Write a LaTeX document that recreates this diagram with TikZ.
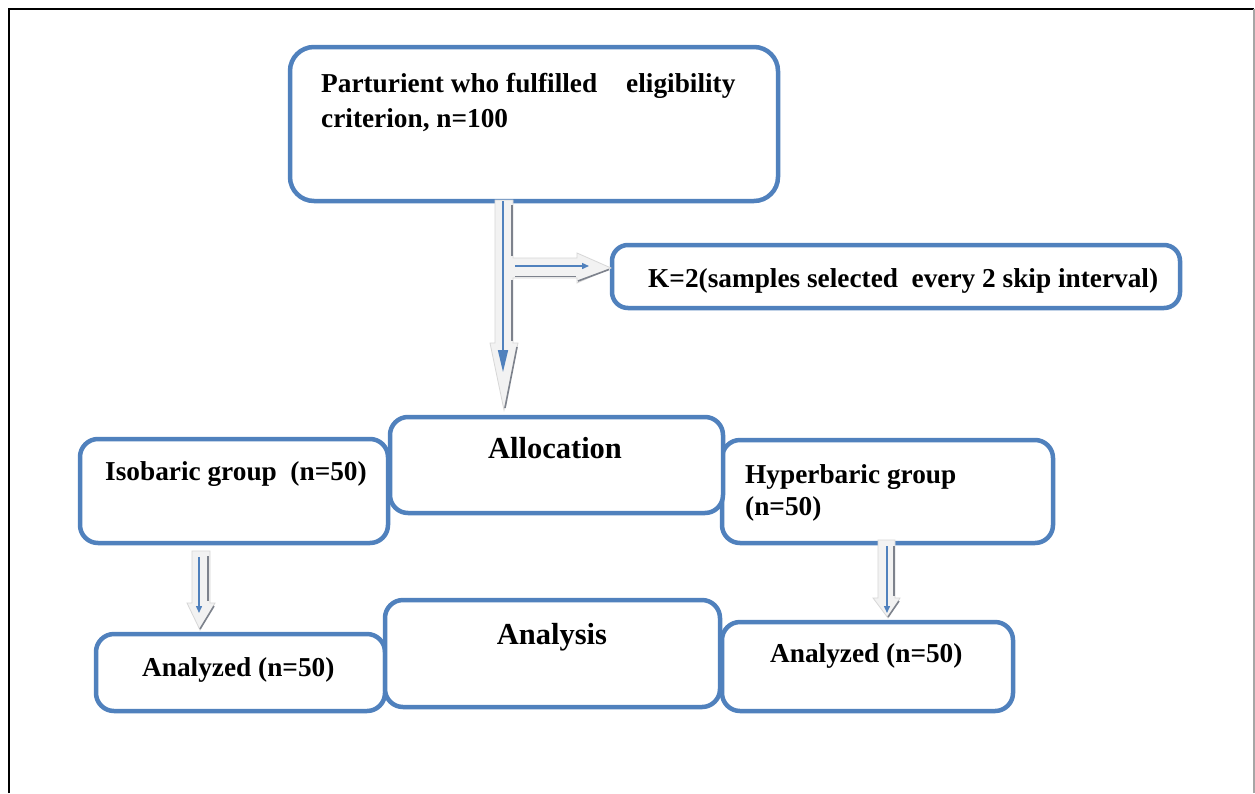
\documentclass[tikz,border=0pt]{standalone}
\usepackage{fontspec}
\setmainfont{Liberation Serif}
\usetikzlibrary{arrows.meta}
\definecolor{boxblue}{RGB}{80,129,189}
\definecolor{arrfill}{RGB}{242,242,242}
\definecolor{arredge}{RGB}{215,215,215}
\definecolor{arrshadow}{RGB}{125,130,140}
\tikzset{
  flowbox/.style={draw=boxblue, line width=4.5pt, rounded corners=18pt, fill=white,
    inner sep=0pt, outer sep=0pt},
  txt/.style={font=\bfseries\fontsize{27.3}{35}\selectfont, inner sep=0pt, anchor=base west, align=left},
  bigtxt/.style={font=\bfseries\fontsize{30.5}{36}\selectfont, inner sep=0pt, anchor=base},
  blockarrow/.style={fill=arrfill, draw=arredge, line width=0.8pt, line join=miter},
  arrshade/.style={draw=arrshadow, line width=1.6pt},
  bluebig/.style={draw=boxblue, line width=1.6pt, -{Triangle[length=22pt,width=10pt]}},
  bluesmall/.style={draw=boxblue, line width=1.4pt, -{Triangle[length=7pt,width=6pt]}},
}
\begin{document}
\begin{tikzpicture}[x=1pt,y=-1pt]
\useasboundingbox (0,0) rectangle (1255,793);
\fill[white] (0,0) rectangle (1255,793);
% outer frame
\draw[black, line width=2pt] (9,793) -- (9,9) -- (1254,9);
\draw[gray!70, line width=1.5pt] (1254,9) -- (1254,793);

% boxes
\node[flowbox, rounded corners=24pt, minimum width=488pt, minimum height=154pt] (top) at (534,124) {};
\node[flowbox, rounded corners=16pt, minimum width=568pt, minimum height=63pt] (kbox) at (896,276.5) {};
\node[flowbox, minimum width=308pt, minimum height=104pt] (iso) at (234,491) {};
\node[flowbox, minimum width=331pt, minimum height=103pt] (hyp) at (887.5,491.5) {};
\node[flowbox, minimum width=333pt, minimum height=96pt] (alloc) at (556.5,465) {};
\node[flowbox, minimum width=289pt, minimum height=77pt] (anl) at (240.5,672.5) {};
\node[flowbox, minimum width=291pt, minimum height=89pt] (anr) at (867.5,666.5) {};
\node[flowbox, minimum width=335pt, minimum height=107pt] (analysis) at (552.5,653.5) {};

% texts (base anchor of a two-line node is the baseline of its last line)
\node[txt] (topT) at (321,127) {Parturient who fulfilled\hspace{29pt}eligibility\\criterion, n=100};
\node[txt] (kT) at (648,287) {K=2(samples selected\ \ every 2 skip interval)};
\node[bigtxt] (allocT) at (555,458) {Allocation};
\node[txt] (isoT) at (105,480) {Isobaric group\ \ (n=50)};
\node[txt, font=\bfseries\fontsize{27.3}{32}\selectfont] (hypT) at (745,515) {Hyperbaric group\\(n=50)};
\node[txt] (anlT) at (142,676) {Analyzed (n=50)};
\node[txt] (anrT) at (770,662) {Analyzed (n=50)};
\node[bigtxt] (analysisT) at (552,644) {Analysis};

% main block arrow with branch
\coordinate (mainS) at (503,201);
\coordinate (mainE) at (503,372);
\coordinate (brS) at (515,266);
\coordinate (brE) at (589,266);
\draw[blockarrow] (495,200) -- (513,200) -- (513,258) -- (577,258) -- (577,253) -- (611,268)
  -- (577,283) -- (577,278) -- (513,278) -- (513,343) -- (518,343) -- (504,410)
  -- (490,343) -- (495,343) -- cycle;
\draw[arrshade] (512,205) -- (512,256);
\draw[arrshade] (512,280) -- (512,341);
\draw[arrshade] (517,347) -- (505,408);
\draw[arrshade] (515,276.5) -- (576,276.5);
\draw[arrshade] (578,281) -- (609,269.5);
\draw[bluebig] (mainS) -- (mainE);
\draw[bluesmall] (brS) -- (brE);

% left small block arrow
\coordinate (lS) at (199,557);
\coordinate (lE) at (199,613);
\draw[blockarrow] (192,551) -- (210,551) -- (210,603) -- (215,603) -- (200,630) -- (187,603) -- (192,603) -- cycle;
\draw[arrshade] (208,556) -- (208,601);
\draw[arrshade] (214,606) -- (200,629);
\draw[bluesmall] (lS) -- (lE);

% right small block arrow
\coordinate (rS) at (887,546);
\coordinate (rE) at (887,613);
\draw[blockarrow] (878,540) -- (895,540) -- (895,598) -- (900,598) -- (888,618) -- (873,598) -- (878,598) -- cycle;
\draw[arrshade] (894,546) -- (894,596);
\draw[arrshade] (899,601) -- (888,617);
\draw[bluesmall] (rS) -- (rE);
\end{tikzpicture}
\end{document}
